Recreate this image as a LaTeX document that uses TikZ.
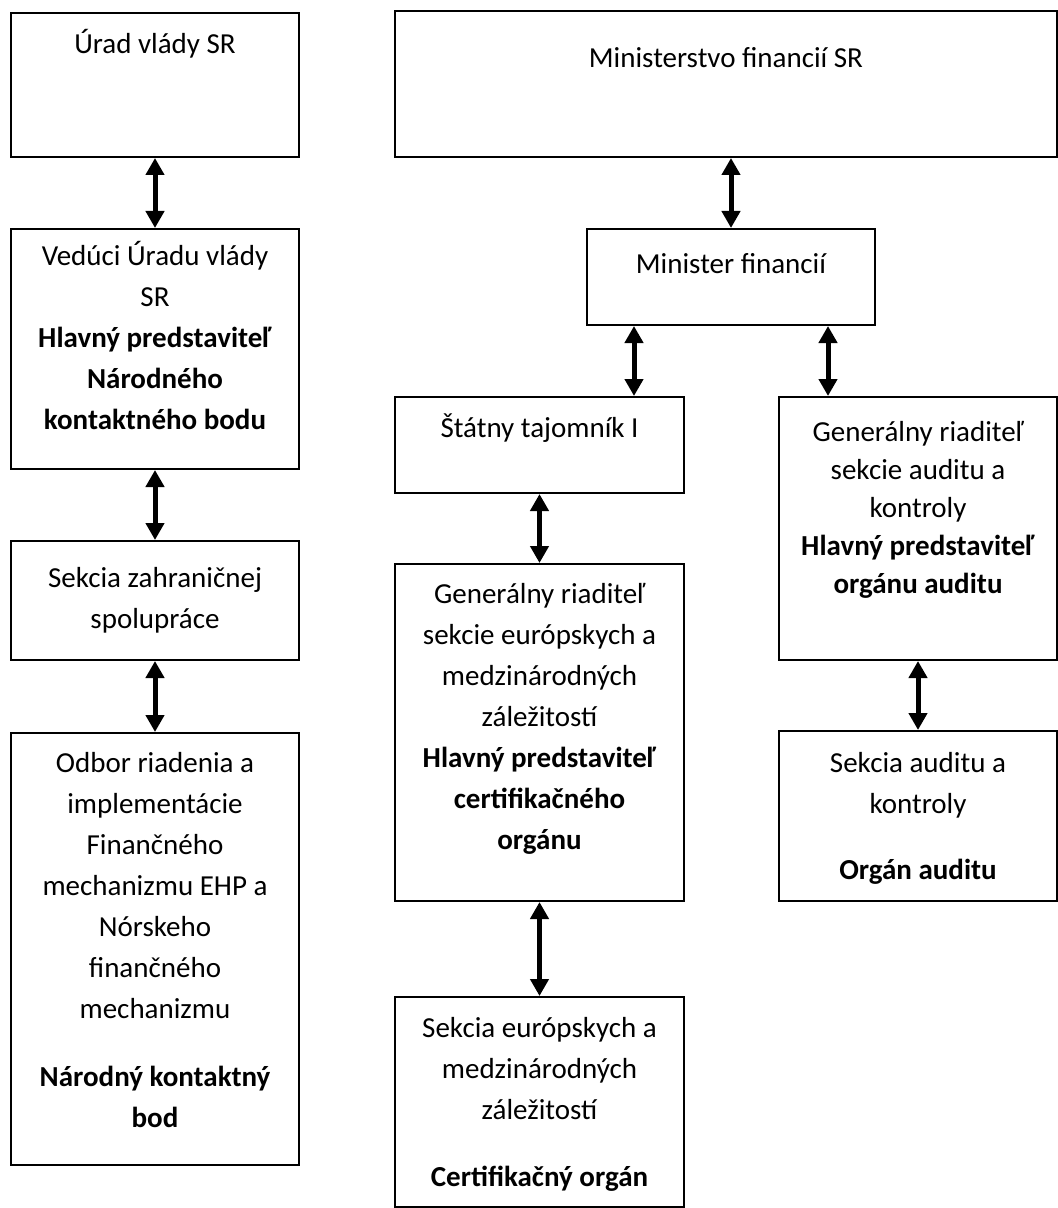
\documentclass[tikz,border=0pt]{standalone}
\usepackage{fontspec}
\setmainfont{Carlito}
\usetikzlibrary{arrows.meta,calc}

% text block inside a box: width, height, top gap, lines
\newcommand{\boxtext}[4]{\parbox[c][#2][t]{#1}{\centering\vspace*{#3}\strut #4\par}}

\tikzset{
  orgbox/.style={draw, line width=1pt, inner sep=0pt, anchor=north west},
  link/.style={{Triangle[width=9pt,length=8.5pt]}-{Triangle[width=9pt,length=8.5pt]}, line width=2.5pt},
}

\begin{document}
\begin{tikzpicture}[x=0.5pt, y=-0.5pt, font=\fontsize{14.5pt}{20.5pt}\selectfont]
  \useasboundingbox (0,0) rectangle (1058,1208);

  % left column
  \node[orgbox] (urad) at (10,12) {\boxtext{144pt}{72pt}{6pt}{Úrad vlády SR}};
  \node[orgbox] (veduci) at (10,228) {\boxtext{144pt}{120pt}{4pt}{Vedúci Úradu vlády\\ SR\\ \textbf{Hlavný predstaviteľ}\\ \textbf{Národného}\\ \textbf{kontaktného bodu}}};
  \node[orgbox] (sekciazahr) at (10,540) {\boxtext{144pt}{59.5pt}{9pt}{Sekcia zahraničnej\\ spolupráce}};
  \node[orgbox] (odbor) at (10,732) {\boxtext{144pt}{216pt}{5.5pt}{Odbor riadenia a\\ implementácie\\ Finančného\\ mechanizmu EHP a\\ Nórskeho\\ finančného\\ mechanizmu\\[13.5pt] \textbf{Národný kontaktný}\\ \textbf{bod}}};

  % ministry
  \node[orgbox] (ministerstvo) at (394,10) {\boxtext{331pt}{73pt}{14pt}{Ministerstvo financií SR}};
  \node[orgbox] (minister) at (586,228) {\boxtext{144pt}{48pt}{8pt}{Minister financií}};
  \node[orgbox] (statny) at (394,396) {\boxtext{144.5pt}{48pt}{6pt}{Štátny tajomník I}};
  \node[orgbox] (geneur) at (394,563) {\boxtext{144.5pt}{168.5pt}{5.5pt}{Generálny riaditeľ\\ sekcie európskych a\\ medzinárodných\\ záležitostí\\ \textbf{Hlavný predstaviteľ}\\ \textbf{certifikačného}\\ \textbf{orgánu}}};
  \node[orgbox] (sekciaeur) at (394,996) {\boxtext{144.5pt}{105pt}{6pt}{Sekcia európskych a\\ medzinárodných\\ záležitostí\\[13pt] \textbf{Certifikačný orgán}}};
  \node[orgbox, font=\fontsize{14.5pt}{19pt}\selectfont] (genaudit) at (778,396) {\boxtext{139pt}{131.5pt}{9pt}{Generálny riaditeľ\\ sekcie auditu a\\ kontroly\\ \textbf{Hlavný predstaviteľ}\\ \textbf{orgánu auditu}}};
  \node[orgbox] (sekciaaudit) at (778,730) {\boxtext{139pt}{85pt}{6.5pt}{Sekcia auditu a\\ kontroly\\[12.5pt] \textbf{Orgán auditu}}};

  % arrows
  \draw[link] (urad.south) -- (veduci.north);
  \draw[link] (veduci.south) -- (sekciazahr.north);
  \draw[link] (sekciazahr.south) -- (odbor.north);
  \draw[link] (ministerstvo.south -| minister.north) -- (minister.north);
  \coordinate (minleft) at ([xshift=24pt]minister.south west);
  \coordinate (minright) at ([xshift=-24pt]minister.south east);
  \draw[link] (minleft) -- (minleft |- statny.north);
  \draw[link] (minright) -- (minright |- genaudit.north);
  \draw[link] (statny.south) -- (geneur.north);
  \draw[link] (geneur.south) -- (sekciaeur.north);
  \draw[link] (genaudit.south) -- (sekciaaudit.north);
\end{tikzpicture}
\end{document}
